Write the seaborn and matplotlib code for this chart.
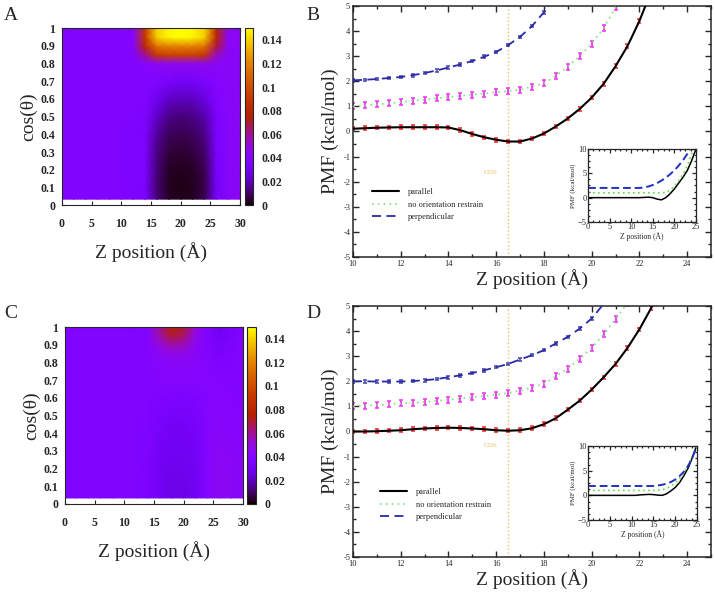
import numpy as np
import pandas as pd
import seaborn as sns
import matplotlib.pyplot as plt
from matplotlib.ticker import MultipleLocator, FuncFormatter

sns.set_style("ticks")
plt.rcParams["font.family"] = ["Liberation Serif", "DejaVu Serif"]

# ---------------------------------------------------------
# datos de los mapas de densidad (A y C)
# ---------------------------------------------------------
z_nodes = [0, 2, 4, 6, 8, 10, 12, 14, 16, 18, 20, 22, 24, 26, 28, 30]
cos_nodes = [0.034, 0.1, 0.2, 0.3, 0.4, 0.5, 0.6, 0.7, 0.8, 0.85, 0.9, 0.95, 1.0]

heat_a = [
    [.038, .038, .038, .038, .038, .038, .037, .036, .012, .004, .003, .004, .008, .033, .042, .044],
    [.038, .038, .038, .038, .038, .038, .037, .036, .011, .003, .002, .003, .007, .032, .042, .044],
    [.038, .038, .038, .038, .038, .038, .037, .036, .012, .004, .003, .004, .008, .033, .042, .044],
    [.038, .038, .038, .038, .038, .038, .037, .036, .013, .006, .005, .006, .010, .034, .042, .044],
    [.038, .038, .038, .038, .038, .038, .037, .036, .016, .009, .008, .009, .013, .035, .042, .044],
    [.038, .038, .038, .038, .038, .038, .038, .037, .022, .014, .012, .013, .018, .036, .042, .044],
    [.038, .038, .038, .038, .038, .038, .038, .038, .030, .022, .020, .021, .026, .038, .042, .044],
    [.038, .038, .038, .038, .038, .038, .038, .039, .038, .034, .032, .033, .036, .041, .043, .044],
    [.038, .038, .038, .038, .038, .038, .038, .040, .045, .046, .046, .046, .046, .044, .043, .044],
    [.038, .038, .038, .038, .038, .038, .039, .060, .090, .095, .095, .095, .090, .055, .043, .044],
    [.038, .038, .038, .038, .038, .038, .040, .080, .115, .120, .120, .120, .115, .070, .043, .044],
    [.038, .038, .038, .038, .038, .038, .040, .090, .140, .148, .150, .148, .140, .080, .044, .044],
    [.038, .038, .038, .038, .038, .038, .040, .090, .140, .148, .150, .148, .140, .080, .044, .044],
]

heat_c = [
    [.038, .038, .038, .038, .038, .038, .038, .036, .031, .028, .028, .031, .040, .045, .044, .042],
    [.038, .038, .038, .038, .038, .038, .038, .036, .031, .028, .028, .031, .040, .045, .044, .042],
    [.038, .038, .038, .038, .038, .038, .038, .036, .031, .029, .029, .031, .040, .045, .044, .042],
    [.038, .038, .038, .038, .038, .038, .038, .037, .032, .030, .030, .032, .040, .044, .043, .041],
    [.038, .038, .038, .038, .038, .038, .038, .037, .033, .031, .031, .033, .040, .043, .042, .040],
    [.038, .038, .038, .038, .038, .038, .038, .038, .035, .033, .033, .035, .040, .042, .041, .040],
    [.038, .038, .038, .038, .038, .038, .038, .038, .037, .036, .036, .037, .040, .041, .040, .039],
    [.038, .038, .038, .038, .038, .038, .038, .039, .040, .040, .040, .040, .040, .040, .039, .039],
    [.038, .038, .038, .038, .038, .038, .038, .039, .042, .043, .043, .042, .040, .037, .038, .039],
    [.038, .038, .038, .038, .038, .038, .038, .040, .045, .048, .047, .043, .039, .035, .037, .039],
    [.038, .038, .038, .038, .038, .038, .038, .040, .050, .058, .055, .045, .038, .033, .036, .039],
    [.038, .038, .038, .038, .038, .038, .038, .040, .058, .070, .065, .048, .038, .031, .035, .039],
    [.038, .038, .038, .038, .038, .038, .038, .040, .060, .075, .070, .050, .038, .030, .035, .039],
]

# ---------------------------------------------------------
# datos PMF (B y D)
# ---------------------------------------------------------
z_main = [10, 10.5, 11, 11.5, 12, 12.5, 13, 13.5, 14, 14.5, 15, 15.5, 16, 16.5,
          17, 17.5, 18, 18.5, 19, 19.5, 20, 20.5, 21, 21.5, 22, 22.5, 23]

b_parallel = [0.11, 0.13, 0.15, 0.16, 0.17, 0.17, 0.17, 0.17, 0.16, 0.05, -0.10, -0.23,
              -0.33, -0.40, -0.40, -0.28, -0.08, 0.20, 0.52, 0.90, 1.35, 1.90, 2.60, 3.40,
              4.40, 5.60]
b_no_orient = [1.00, 1.04, 1.08, 1.12, 1.17, 1.22, 1.27, 1.32, 1.37, 1.42, 1.47, 1.51,
               1.56, 1.61, 1.67, 1.78, 1.92, 2.22, 2.58, 3.00, 3.50, 4.12, 4.95, 5.80]
b_perp = [2.04, 2.06, 2.09, 2.13, 2.17, 2.24, 2.33, 2.43, 2.55, 2.67, 2.81, 2.98,
          3.17, 3.44, 3.77, 4.20, 4.75, 5.40]

d_parallel = [0.00, 0.00, 0.01, 0.03, 0.05, 0.09, 0.12, 0.14, 0.15, 0.14, 0.12, 0.09,
              0.05, 0.03, 0.05, 0.13, 0.29, 0.53, 0.87, 1.23, 1.67, 2.16, 2.69, 3.33,
              4.07, 4.93, 5.80]
d_no_orient = [1.00, 1.02, 1.05, 1.08, 1.12, 1.14, 1.17, 1.22, 1.27, 1.31, 1.36, 1.41,
               1.47, 1.53, 1.63, 1.75, 1.90, 2.20, 2.50, 2.90, 3.33, 3.87, 4.47, 5.13]
d_perp = [2.00, 2.00, 1.99, 1.99, 1.99, 2.01, 2.04, 2.09, 2.16, 2.24, 2.33, 2.44,
          2.56, 2.69, 2.87, 3.04, 3.24, 3.51, 3.77, 4.10, 4.50, 5.08]

err_parallel = 0.07
err_no_orient = 0.12
err_perp = 0.05

# insets
z_inset = [0, 1, 2, 3, 4, 5, 6, 7, 8, 9, 10, 11, 12, 13, 14, 15, 16, 17, 18, 19,
           20, 21, 22, 23, 24, 25]
b_in_parallel = [0, 0, 0, 0, 0, 0, 0, 0, 0, 0, 0, 0, 0, 0.05, 0.1, 0.0, -0.3, -0.45,
                 0.0, 0.8, 1.8, 3.0, 4.2, 5.6, 7.6, 10.0]
b_in_no_orient = [1.0, 1.0, 1.0, 1.0, 1.0, 1.0, 1.0, 1.0, 1.0, 1.0, 1.0, 1.0, 1.0, 1.0,
                  1.0, 1.0, 1.0, 1.0, 1.1, 1.5, 2.4, 3.5, 4.8, 6.6, 9.0, 11.5]
b_in_perp = [2.0, 2.0, 2.0, 2.0, 2.0, 2.0, 2.0, 2.0, 2.0, 2.0, 2.0, 2.0, 2.0, 2.1,
             2.3, 2.6, 3.0, 3.5, 4.1, 4.8, 5.6, 6.6, 7.7, 9.0, 10.5, 12.0]

d_in_parallel = [0, 0, 0, 0, 0, 0, 0, 0, 0, 0, 0, 0, 0.1, 0.15, 0.2, 0.15, 0.05, 0.0,
                 0.3, 0.9, 1.6, 2.6, 4.0, 5.6, 7.8, 10.3]
d_in_no_orient = [1.0, 1.0, 1.0, 1.0, 1.0, 1.0, 1.0, 1.0, 1.0, 1.0, 1.0, 1.0, 1.0, 1.0,
                  1.0, 1.0, 1.05, 1.15, 1.4, 1.85, 2.5, 3.4, 4.6, 6.2, 8.0, 10.0]
d_in_perp = [1.9, 1.9, 1.9, 1.9, 1.9, 1.9, 1.9, 1.9, 1.9, 1.9, 1.9, 1.9, 1.9, 1.9,
             1.9, 1.9, 2.0, 2.15, 2.35, 2.7, 3.2, 3.9, 4.8, 6.0, 7.8, 10.0]

labels = ["parallel", "no orientation restrain", "perpendicular"]
gds_z = 16.5

# ---------------------------------------------------------
# figura
# ---------------------------------------------------------
fig = plt.figure(figsize=(7.15, 6), dpi=100)

fmt_g = FuncFormatter(lambda v, p: "%g" % round(v, 4))


def heat_panel(rect, crect, grid):
    ax = fig.add_axes(rect)
    mesh = ax.pcolormesh(z_nodes, cos_nodes, np.array(grid), shading="gouraud",
                         cmap="gnuplot", vmin=0, vmax=0.15)
    ax.set_xlim(0, 30)
    ax.set_ylim(0, 1)
    ax.xaxis.set_major_locator(MultipleLocator(5))
    ax.yaxis.set_major_locator(MultipleLocator(0.1))
    ax.xaxis.set_major_formatter(fmt_g)
    ax.yaxis.set_major_formatter(fmt_g)
    ax.tick_params(direction="in", top=True, right=True, length=3, width=0.8,
                   labelsize=8.5)
    ax.tick_params(axis="x", pad=9)
    ax.tick_params(axis="y", pad=5)
    for lab in ax.get_xticklabels() + ax.get_yticklabels():
        lab.set_fontweight("bold")
    for s in ax.spines.values():
        s.set_linewidth(0.8)
    ax.set_xlabel("Z position (Å)", fontsize=14, labelpad=9)
    ax.set_ylabel("cos(θ)", fontsize=14, labelpad=2)

    cax = fig.add_axes(crect)
    cb = fig.colorbar(mesh, cax=cax)
    cb.set_ticks([0, 0.02, 0.04, 0.06, 0.08, 0.1, 0.12, 0.14])
    cb.ax.yaxis.set_major_formatter(fmt_g)
    cb.ax.tick_params(direction="in", left=True, right=True, length=3, width=0.8,
                      labelsize=8.5, pad=6)
    for lab in cb.ax.get_yticklabels():
        lab.set_fontweight("bold")
    cb.outline.set_linewidth(0.8)
    return ax


def pmf_panel(rect, par, no, perp, gds_y, leg_x):
    ax = fig.add_axes(rect)
    ax.axvline(gds_z, color="#e8c060", ls=":", lw=1.0, zorder=1)
    ax.text(gds_z - 0.75, gds_y, "GDS", color="#e8c060", fontsize=5,
            ha="center", va="center")

    zp, zn, zq = z_main[:len(par)], z_main[:len(no)], z_main[:len(perp)]
    ax.errorbar(zn, no, yerr=err_no_orient, fmt="none", ecolor="#f040f0",
                elinewidth=1.4, capsize=1.3, capthick=1.2, zorder=2)
    ax.errorbar(zq, perp, yerr=err_perp, fmt="none", ecolor="#5050b0",
                elinewidth=1.2, capsize=1.5, capthick=1.2, zorder=2)
    ax.errorbar(zp, par, yerr=err_parallel, fmt="none", ecolor="#ff3030",
                elinewidth=1.2, capsize=1.5, capthick=1.2, zorder=2)

    sns.lineplot(x=zp, y=par, ax=ax, color="black", lw=1.5, label=labels[0], zorder=3)
    sns.lineplot(x=zn, y=no, ax=ax, color="#7ee07e", lw=1.2, linestyle=(0, (1, 2.5)),
                 label=labels[1], zorder=3)
    sns.lineplot(x=zq, y=perp, ax=ax, color="#2a2aa8", lw=1.3, linestyle=(0, (5, 3)),
                 label=labels[2], zorder=3)

    ax.set_xlim(10, 25)
    ax.set_ylim(-5, 5)
    ax.xaxis.set_major_locator(MultipleLocator(2))
    ax.xaxis.set_minor_locator(MultipleLocator(1))
    ax.yaxis.set_major_locator(MultipleLocator(1))
    ax.yaxis.set_minor_locator(MultipleLocator(0.5))
    ax.xaxis.set_major_formatter(fmt_g)
    ax.yaxis.set_major_formatter(fmt_g)
    ax.tick_params(which="both", direction="in", top=True, right=True, width=1,
                   labelsize=6, pad=2)
    ax.tick_params(which="major", length=4)
    ax.tick_params(which="minor", length=2)
    for s in ax.spines.values():
        s.set_linewidth(1.1)
    ax.set_xlabel("Z position (Å)", fontsize=14, labelpad=1)
    ax.set_ylabel("PMF (kcal/mol)", fontsize=14, labelpad=3)
    ax.legend(loc="upper left", bbox_to_anchor=(leg_x, 0.275), frameon=False,
              fontsize=6, handlelength=3.3, handletextpad=1.0, labelspacing=0.55,
              borderpad=0, borderaxespad=0)
    return ax


def inset_panel(rect, par, no, perp):
    ins = fig.add_axes(rect)
    ins.set_facecolor("white")
    sns.lineplot(x=z_inset, y=par, ax=ins, color="black", lw=1.1)
    sns.lineplot(x=z_inset, y=no, ax=ins, color="#66dd44", lw=1.2,
                 linestyle=(0, (1, 2)))
    sns.lineplot(x=z_inset, y=perp, ax=ins, color="#2030c0", lw=1.4,
                 linestyle=(0, (4, 2)))
    ins.set_xlim(0, 25)
    ins.set_ylim(-5, 10)
    ins.xaxis.set_major_locator(MultipleLocator(5))
    ins.xaxis.set_minor_locator(MultipleLocator(1.25))
    ins.yaxis.set_major_locator(MultipleLocator(5))
    ins.yaxis.set_minor_locator(MultipleLocator(1.25))
    ins.tick_params(which="both", direction="in", top=True, right=True, width=0.9,
                    labelsize=6, pad=1)
    ins.tick_params(which="major", length=3)
    ins.tick_params(which="minor", length=1.5)
    for s in ins.spines.values():
        s.set_linewidth(0.9)
    ins.set_xlabel("Z position (Å)", fontsize=5.5, labelpad=1)
    ins.set_ylabel("PMF (kcal/mol)", fontsize=5, labelpad=1)
    return ins


heat_panel([0.0867, 0.658, 0.249, 0.295], [0.3427, 0.658, 0.0112, 0.295], heat_a)
heat_panel([0.0909, 0.160, 0.249, 0.295], [0.3455, 0.160, 0.0126, 0.295], heat_c)

pmf_panel([0.4937, 0.5717, 0.5007, 0.4183], b_parallel, b_no_orient, b_perp, -1.65, 0.053)
pmf_panel([0.4937, 0.0717, 0.5007, 0.4183], d_parallel, d_no_orient, d_perp, -0.55, 0.075)

inset_panel([0.8224, 0.630, 0.151, 0.1217], b_in_parallel, b_in_no_orient, b_in_perp)
inset_panel([0.8224, 0.1333, 0.1524, 0.1233], d_in_parallel, d_in_no_orient, d_in_perp)

for letter, x, y in [("A", 0.006, 0.975), ("B", 0.428, 0.975),
                     ("C", 0.006, 0.478), ("D", 0.428, 0.478)]:
    fig.text(x, y, letter, fontsize=14, ha="left", va="center")

fig.savefig("out.png", dpi=100)
